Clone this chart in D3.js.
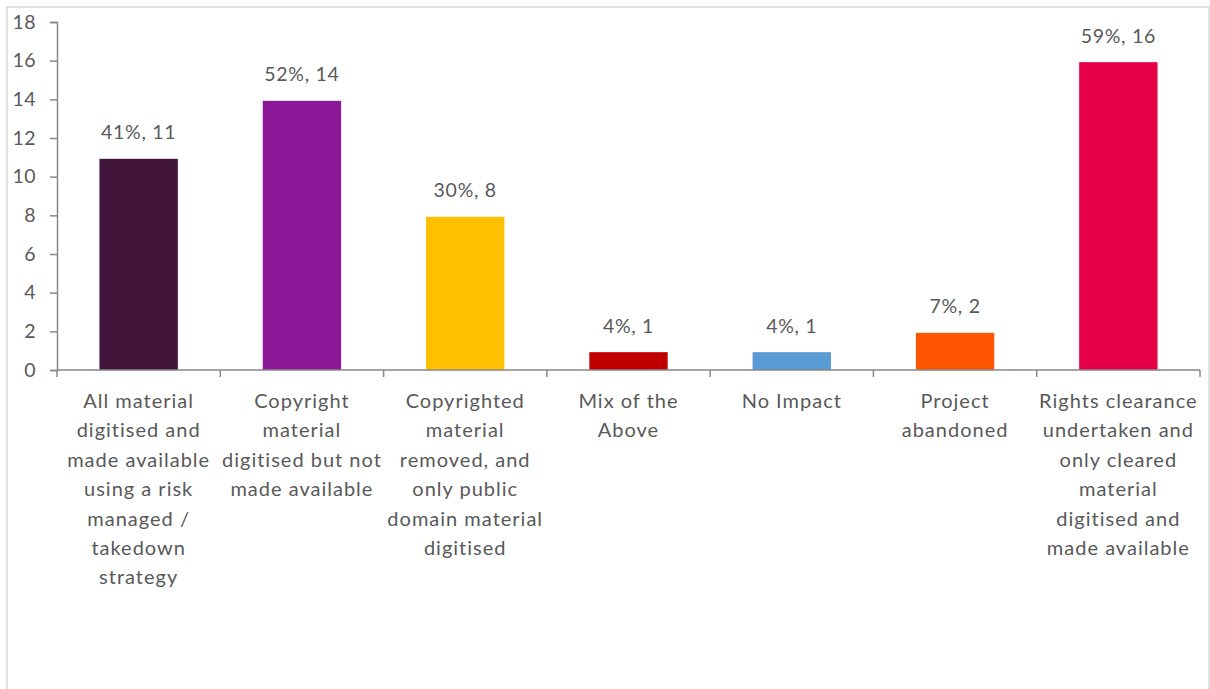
<!DOCTYPE html>
<html>
<head>
<meta charset="utf-8">
<script src="https://cdn.jsdelivr.net/npm/d3@7"></script>
<style>
  html, body { margin: 0; padding: 0; background: #fff; }
  svg { display: block; }
  text { font-family: Lato, "Open Sans", sans-serif; fill: #595959; }
</style>
</head>
<body>
<svg id="chart" width="1210" height="689"></svg>
<script>
// Impact of copyright on digitisation projects: number of responses per outcome
const categories = [
  "All material digitised and made available using a risk managed / takedown strategy",
  "Copyright material digitised but not made available",
  "Copyrighted material removed, and only public domain material digitised",
  "Mix of the Above",
  "No Impact",
  "Project abandoned",
  "Rights clearance undertaken and only cleared material digitised and made available"
];
const categoryLines = [
  ["All material", "digitised and", "made available", "using a risk", "managed /", "takedown", "strategy"],
  ["Copyright", "material", "digitised but not", "made available"],
  ["Copyrighted", "material", "removed, and", "only public", "domain material", "digitised"],
  ["Mix of the", "Above"],
  ["No Impact"],
  ["Project", "abandoned"],
  ["Rights clearance", "undertaken and", "only cleared", "material", "digitised and", "made available"]
];
const counts = [11, 14, 8, 1, 1, 2, 16];
const percents = ["41%", "52%", "30%", "4%", "4%", "7%", "59%"];
const barColors = ["#41143A", "#8B1896", "#FFC000", "#C00000", "#5B9BD5", "#FF5400", "#E60048"];
const yTicks = [0, 2, 4, 6, 8, 10, 12, 14, 16, 18];

const svg = d3.select("#chart");

// outer chart frame
svg.append("rect")
  .attr("x", 7).attr("y", 7)
  .attr("width", 1202).attr("height", 690)
  .attr("fill", "#fff")
  .attr("stroke", "#D9D9D9")
  .attr("stroke-width", 1.5);

const plot = { left: 57, right: 1200, top: 22, bottom: 370 };

const x = d3.scaleBand()
  .domain(categories)
  .range([plot.left, plot.right])
  .paddingInner(0.52)
  .paddingOuter(0.26);

const xBand = d3.scaleBand()
  .domain(categories)
  .range([plot.left, plot.right]);

const y = d3.scaleLinear()
  .domain([0, 18])
  .range([plot.bottom, plot.top]);

// bars
svg.append("g").selectAll("rect")
  .data(categories)
  .join("rect")
  .attr("x", d => x(d))
  .attr("width", x.bandwidth())
  .attr("y", (d, i) => y(counts[i]) + 1.5)
  .attr("height", (d, i) => y(0) - y(counts[i]) - 1.5)
  .attr("fill", (d, i) => barColors[i]);

// data labels
svg.append("g").selectAll("text")
  .data(categories)
  .join("text")
  .attr("x", d => x(d) + x.bandwidth() / 2)
  .attr("y", (d, i) => y(counts[i]) - 18)
  .attr("text-anchor", "middle")
  .attr("font-size", 19.5)
  .attr("letter-spacing", 0.7)
  .text((d, i) => `${percents[i]}, ${counts[i]}`);

// y axis
const yAxis = d3.axisLeft(y)
  .tickValues(yTicks)
  .tickSize(7)
  .tickPadding(14);
const gy = svg.append("g")
  .attr("transform", `translate(${plot.left},0)`)
  .call(yAxis);
gy.select(".domain").attr("stroke", "#878787").attr("stroke-width", 1.5);
gy.selectAll(".tick line").attr("stroke", "#878787").attr("stroke-width", 1.5);
gy.selectAll(".tick text")
  .attr("font-size", 19.5)
  .attr("letter-spacing", 0.5)
  .attr("fill", "#595959")
  .style("font-family", "Lato, 'Open Sans', sans-serif");

// x axis line and category dividers
const gx = svg.append("g");
gx.append("line")
  .attr("x1", plot.left).attr("x2", plot.right)
  .attr("y1", plot.bottom).attr("y2", plot.bottom)
  .attr("stroke", "#878787").attr("stroke-width", 1.5);
const dividers = categories.map(d => xBand(d)).concat([plot.right]);
gx.selectAll("line.div")
  .data(dividers)
  .join("line")
  .attr("class", "div")
  .attr("x1", d => d).attr("x2", d => d)
  .attr("y1", plot.bottom).attr("y2", plot.bottom + 7)
  .attr("stroke", "#878787").attr("stroke-width", 1.5);

// category labels
const labels = svg.append("g").selectAll("text")
  .data(categories)
  .join("text")
  .attr("text-anchor", "middle")
  .attr("font-size", 20)
  .attr("letter-spacing", 1)
  .attr("x", d => xBand(d) + xBand.bandwidth() / 2)
  .attr("y", 408);
labels.each(function(d, i) {
  const t = d3.select(this);
  categoryLines[i].forEach((line, j) => {
    t.append("tspan")
      .attr("x", xBand(d) + xBand.bandwidth() / 2)
      .attr("y", 408 + j * 29.4)
      .text(line);
  });
});
</script>
</body>
</html>
